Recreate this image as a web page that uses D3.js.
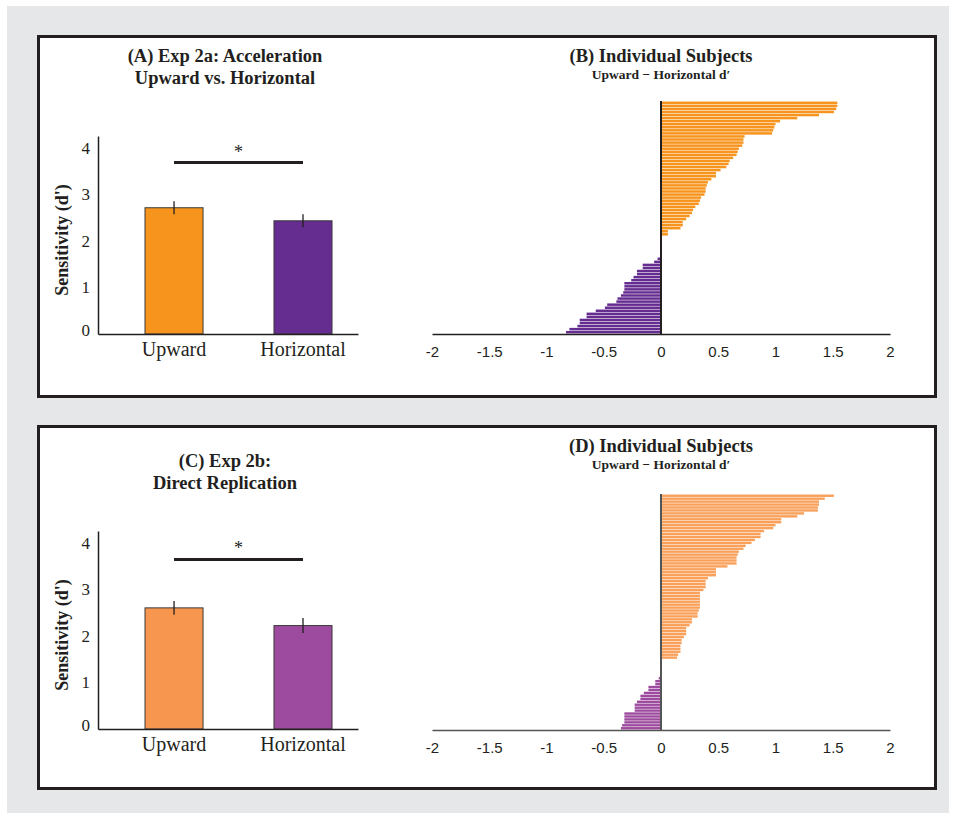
<!DOCTYPE html>
<html>
<head>
<meta charset="utf-8">
<script src="https://cdn.jsdelivr.net/npm/d3@7"></script>
<style>
  body { margin: 0; background: #fff; }
  svg { display: block; }
  text { fill: #231f20; }
</style>
</head>
<body>
<svg id="fig" width="954" height="814"></svg>
<script>
// group means and errors
var groups = ["Upward", "Horizontal"];
var exp2aMeans = [2.71, 2.43];
var exp2aErr = [0.14, 0.14];
var exp2bMeans = [2.60, 2.22];
var exp2bErr = [0.15, 0.16];
var sig2a = 3.68;
var sig2b = 3.64;
var yTicks = [0, 1, 2, 3, 4];
var diffTicks = [-2, -1.5, -1, -0.5, 0, 0.5, 1, 1.5, 2];

// per-subject Upward - Horizontal d', sorted high to low
var diff2a = [
  1.54, 1.54, 1.53, 1.51, 1.38, 1.19, 1.04, 1.00, 0.99, 0.98, 0.97,
  0.73, 0.72, 0.72, 0.71, 0.68, 0.67, 0.66, 0.63, 0.60, 0.59, 0.57, 0.52,
  0.48, 0.48, 0.44, 0.41, 0.40, 0.39, 0.39, 0.38, 0.35, 0.34, 0.33, 0.30,
  0.28, 0.27, 0.25, 0.22, 0.19, 0.19, 0.17, 0.06, 0.06,
  0, 0, 0, 0, 0, 0, 0,
  -0.03, -0.06, -0.16, -0.16, -0.21, -0.21, -0.24, -0.26, -0.32, -0.32,
  -0.32, -0.33, -0.35, -0.38, -0.39, -0.47, -0.49, -0.57, -0.65, -0.65,
  -0.71, -0.71, -0.73, -0.80, -0.83
];
var diff2b = [
  1.51, 1.43, 1.38, 1.38, 1.37, 1.37, 1.25, 1.19, 1.05, 1.05, 1.00, 0.98,
  0.90, 0.87, 0.87, 0.82, 0.79, 0.74, 0.72, 0.68, 0.67, 0.66, 0.66, 0.66,
  0.58, 0.48, 0.48, 0.48, 0.41, 0.39, 0.39, 0.39, 0.37,
  0.34, 0.34, 0.34, 0.34, 0.34, 0.34, 0.33, 0.32, 0.32,
  0.27, 0.27, 0.25, 0.22, 0.22, 0.22, 0.20, 0.18, 0.18, 0.17, 0.17, 0.17, 0.15, 0.14,
  0, 0, 0, 0, 0, 0,
  -0.02, -0.05, -0.05, -0.11, -0.11, -0.15, -0.18, -0.18, -0.21, -0.23,
  -0.23, -0.23, -0.32, -0.32, -0.32, -0.32, -0.34, -0.35
];

var svg = d3.select("#fig");
var ink = "#231f20";
var serif = "'Liberation Serif', 'Times New Roman', serif";

svg.append("rect").attr("x", 7).attr("y", 6).attr("width", 942).attr("height", 807)
  .attr("fill", "#e6e7e8");

function frame(y, h) {
  svg.append("rect").attr("x", 38.5).attr("y", y).attr("width", 897).attr("height", h)
    .attr("fill", "#fff").attr("stroke", ink).attr("stroke-width", 3);
}
frame(36.5, 360);
frame(426.5, 362);

function title(x, y, lines, sizes) {
  var t = svg.append("text").attr("x", x).attr("y", y).attr("text-anchor", "middle")
    .style("font-family", serif).style("font-weight", "bold");
  lines.forEach(function(l, i) {
    t.append("tspan").attr("x", x).attr("dy", i === 0 ? 0 : sizes[i] + 3)
      .style("font-size", sizes[i] + "px").text(l);
  });
}

function barPanel(dy, means, errs, sig, colors) {
  var g = svg.append("g").attr("transform", "translate(0," + dy + ")");
  var x = d3.scaleBand().domain(groups).range([98, 358])
    .paddingInner(0.55).paddingOuter(0.283).align(0.644);
  var y = d3.scaleLinear().domain([0, 4.25]).range([334, 136]);

  g.selectAll("rect.bar").data(groups).join("rect").attr("class", "bar")
    .attr("x", function(d) { return x(d); })
    .attr("width", x.bandwidth())
    .attr("y", function(d, i) { return y(means[i]); })
    .attr("height", function(d, i) { return y(0) - y(means[i]); })
    .attr("fill", function(d, i) { return colors[i]; })
    .attr("stroke", "#3a3a3a").attr("stroke-width", 1);

  g.selectAll("line.err").data(groups).join("line").attr("class", "err")
    .attr("x1", function(d) { return x(d) + x.bandwidth() / 2; })
    .attr("x2", function(d) { return x(d) + x.bandwidth() / 2; })
    .attr("y1", function(d, i) { return y(means[i] - errs[i]); })
    .attr("y2", function(d, i) { return y(means[i] + errs[i]); })
    .attr("stroke", ink).attr("stroke-width", 1.3);

  var yAxis = g.append("g").attr("transform", "translate(98,0)")
    .call(d3.axisLeft(y).tickValues(yTicks).tickSize(0).tickPadding(8).tickSizeOuter(0)
      .tickFormat(d3.format("d")));
  yAxis.select(".domain").attr("stroke", ink).attr("stroke-width", 1.5);
  yAxis.selectAll("text").style("font-family", serif).style("font-size", "17px")
    .attr("fill", ink).attr("dy", function(d) { return d === 0 ? "0.08em" : "0.32em"; });

  var xAxis = g.append("g").attr("transform", "translate(0,334)")
    .call(d3.axisBottom(x).tickSize(0).tickPadding(8).tickSizeOuter(0));
  xAxis.select(".domain").attr("stroke", ink).attr("stroke-width", 1.5);
  xAxis.selectAll("text").style("font-family", serif).style("font-size", "20px").attr("fill", ink);

  var c0 = x(groups[0]) + x.bandwidth() / 2, c1 = x(groups[1]) + x.bandwidth() / 2;
  g.append("line").attr("x1", c0).attr("x2", c1).attr("y1", y(sig)).attr("y2", y(sig))
    .attr("stroke", ink).attr("stroke-width", 3);
  g.append("text").attr("x", (c0 + c1) / 2).attr("y", y(sig) - 5).attr("text-anchor", "middle")
    .style("font-family", serif).style("font-size", "18px").text("*");

  g.append("text").attr("transform", "translate(68,240) rotate(-90)")
    .attr("text-anchor", "middle").style("font-family", serif)
    .style("font-size", "18px").style("font-weight", "bold").text("Sensitivity (d')");
}

function diffPanel(dy, values, colors, lineColor, top, bottom) {
  var g = svg.append("g").attr("transform", "translate(0," + dy + ")");
  var x = d3.scaleLinear().domain([-2, 2]).range([432, 890]);
  var y = d3.scaleBand().domain(d3.range(values.length)).range([top, bottom]).padding(0.18);

  g.selectAll("rect.subj").data(values).join("rect").attr("class", "subj")
    .attr("x", function(d) { return x(Math.min(0, d)); })
    .attr("width", function(d) { return Math.abs(x(d) - x(0)); })
    .attr("y", function(d, i) { return y(i); })
    .attr("height", y.bandwidth())
    .attr("fill", function(d) { return d >= 0 ? colors[0] : colors[1]; });

  var xAxis = g.append("g").attr("transform", "translate(0," + bottom + ")")
    .call(d3.axisBottom(x).tickValues(diffTicks).tickSize(0).tickPadding(12).tickSizeOuter(0)
      .tickFormat(function(d) { return String(d); }));
  xAxis.select(".domain").attr("stroke", lineColor).attr("stroke-width", 1.5);
  xAxis.selectAll("text").style("font-family", "'Liberation Sans', Arial, sans-serif")
    .style("font-size", "15px").attr("fill", ink);

  g.append("line").attr("x1", x(0)).attr("x2", x(0)).attr("y1", top).attr("y2", bottom)
    .attr("stroke", lineColor).attr("stroke-width", 2);
}

title(225, 62, ["(A) Exp 2a: Acceleration", "Upward vs. Horizontal"], [18.5, 18.5]);
title(661, 62, ["(B) Individual Subjects", "Upward \u2212 Horizontal d\u2032"], [18.5, 13.5]);
title(225, 467, ["(C) Exp 2b:", "Direct Replication"], [18.5, 18.5]);
title(661, 452, ["(D) Individual Subjects", "Upward \u2212 Horizontal d\u2032"], [18.5, 13.5]);

barPanel(0, exp2aMeans, exp2aErr, sig2a, ["#f7941d", "#662d91"]);
barPanel(395, exp2bMeans, exp2bErr, sig2b, ["#f7964f", "#9d4b9e"]);
diffPanel(0, diff2a, ["#f7941d", "#662d91"], ink, 101, 334);
diffPanel(0, diff2b, ["#f9a05a", "#9d4b9e"], "#555", 494, 730);
</script>
</body>
</html>
